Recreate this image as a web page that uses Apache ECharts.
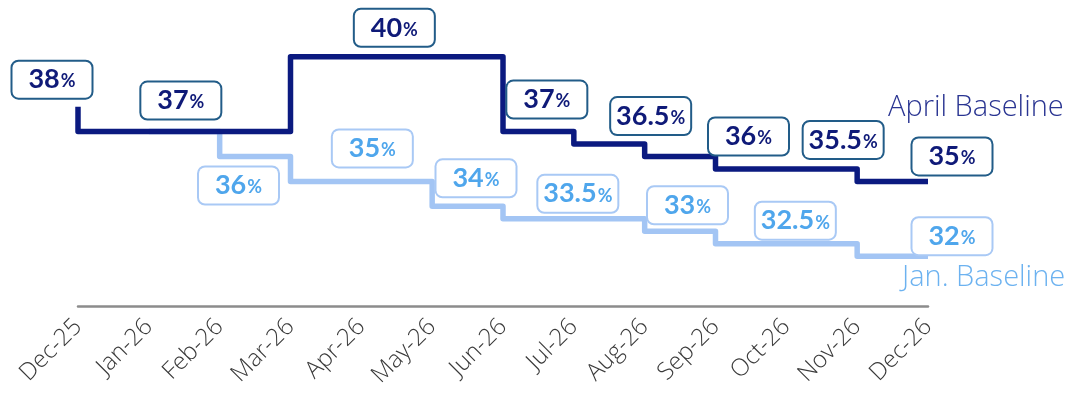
<!DOCTYPE html>
<html>
<head>
<meta charset="utf-8">
<title>Baseline step chart</title>
<script src="https://cdn.jsdelivr.net/npm/echarts@6/dist/echarts.min.js"></script>
<style>
  html, body { margin: 0; padding: 0; background: #ffffff; }
  #chart { width: 1078px; height: 395px; }
</style>
</head>
<body>
<div id="chart"></div>
<script>
// Monthly categories along the x axis
const months = ['Dec-25', 'Jan-26', 'Feb-26', 'Mar-26', 'Apr-26', 'May-26', 'Jun-26',
                'Jul-26', 'Aug-26', 'Sep-26', 'Oct-26', 'Nov-26', 'Dec-26'];

// April baseline (%), value reached at each month boundary
const aprilValues = [38, 37, 37, 37, 40, 40, 40, 37, 36.5, 36, 35.5, 35.5, 35];
// January baseline (%), starts at Feb-26
const janValues = [null, null, 37, 36, 35, 35, 34, 33.5, 33.5, 33, 32.5, 32.5, 32];

// Which points carry a value callout
const aprilLabelIdx = [0, 1, 4, 7, 8, 9, 11, 12];
const janLabelIdx = [3, 4, 6, 7, 9, 10, 12];

// Callout placement relative to each labelled point (pixels)
const aprilOffsets = {0: [-26, -27], 1: [32, -31], 4: [33, -29], 7: [-27, -32],
                      8: [6, -28], 9: [33, -20], 11: [-14, -29], 12: [24, -25]};
const janOffsets = {3: [-52, 29], 4: [11, -33], 6: [-27, -28], 7: [4, -25],
                    9: [-28, -26], 10: [9, -23], 12: [24, -20]};

const DARK = '#0b1a80';
const DARK_TEXT = '#0f1a78';
const DARK_BOX = '#225c88';
const LIGHT = '#a3c5f4';
const LIGHT_TEXT = '#4fa6ec';
const LIGHT_BOX = '#a9c9f5';
const FONT = 'Lato, "Open Sans", sans-serif';
const THIN_FONT = '"Open Sans", Lato, sans-serif';

function callout(textColor, boxColor) {
  return {
    show: true,
    position: 'inside',
    align: 'center',
    verticalAlign: 'middle',
    formatter: p => '{n|' + p.value + '}{p|%}',
    backgroundColor: '#ffffff',
    borderColor: boxColor,
    borderWidth: 2,
    borderRadius: 6,
    width: 75,
    height: 32,
    padding: [2, 2],
    rich: {
      n: { fontFamily: FONT, fontWeight: 'bold', fontSize: 27, color: textColor, lineHeight: 32 },
      p: { fontFamily: FONT, fontWeight: 'bold', fontSize: 18, color: textColor, lineHeight: 32, padding: [4, 0, 0, 1] }
    }
  };
}

function buildData(values, labelIdx, offsets, textColor, boxColor) {
  return values.map((v, i) => {
    if (labelIdx.indexOf(i) < 0) return v;
    const lab = callout(textColor, boxColor);
    lab.offset = offsets[i];
    return { value: v, label: lab };
  });
}

const chart = echarts.init(document.getElementById('chart'), null, { renderer: 'canvas' });

chart.setOption({
  animation: false,
  backgroundColor: '#ffffff',
  grid: { left: 78, right: 150, top: 7, bottom: 89, containLabel: false },
  xAxis: {
    type: 'category',
    data: months,
    boundaryGap: false,
    axisLine: { show: true, lineStyle: { color: '#8c8c8c', width: 2.5 } },
    axisTick: { show: false },
    axisLabel: {
      rotate: 45,
      margin: 17,
      fontFamily: THIN_FONT,
      fontWeight: 300,
      fontSize: 24,
      color: '#3a3a3a',
      interval: 0
    },
    splitLine: { show: false }
  },
  yAxis: {
    type: 'value',
    min: 30,
    max: 42,
    show: false,
    splitLine: { show: false }
  },
  series: [
    {
      name: 'Jan. Baseline',
      type: 'line',
      step: 'start',
      data: buildData(janValues, janLabelIdx, janOffsets, LIGHT_TEXT, LIGHT_BOX),
      symbol: 'circle',
      symbolSize: 1,
      showSymbol: true,
      itemStyle: { color: 'rgba(0,0,0,0)' },
      lineStyle: { color: LIGHT, width: 5.5, join: 'round' },
      label: { show: false },
      z: 2
    },
    {
      name: 'April Baseline',
      type: 'line',
      step: 'start',
      data: buildData(aprilValues, aprilLabelIdx, aprilOffsets, DARK_TEXT, DARK_BOX),
      symbol: 'circle',
      symbolSize: 1,
      showSymbol: true,
      itemStyle: { color: 'rgba(0,0,0,0)' },
      lineStyle: { color: DARK, width: 5.5, join: 'round' },
      label: { show: false },
      z: 3
    }
  ],
  graphic: [
    {
      type: 'text',
      left: 888,
      top: 93,
      style: { text: 'April Baseline', fill: '#2a3592', fontFamily: THIN_FONT, fontWeight: 300, fontSize: 29 }
    },
    {
      type: 'text',
      left: 902,
      top: 263,
      style: { text: 'Jan. Baseline', fill: '#6cb2f0', fontFamily: THIN_FONT, fontWeight: 300, fontSize: 29 }
    }
  ]
});
</script>
</body>
</html>
